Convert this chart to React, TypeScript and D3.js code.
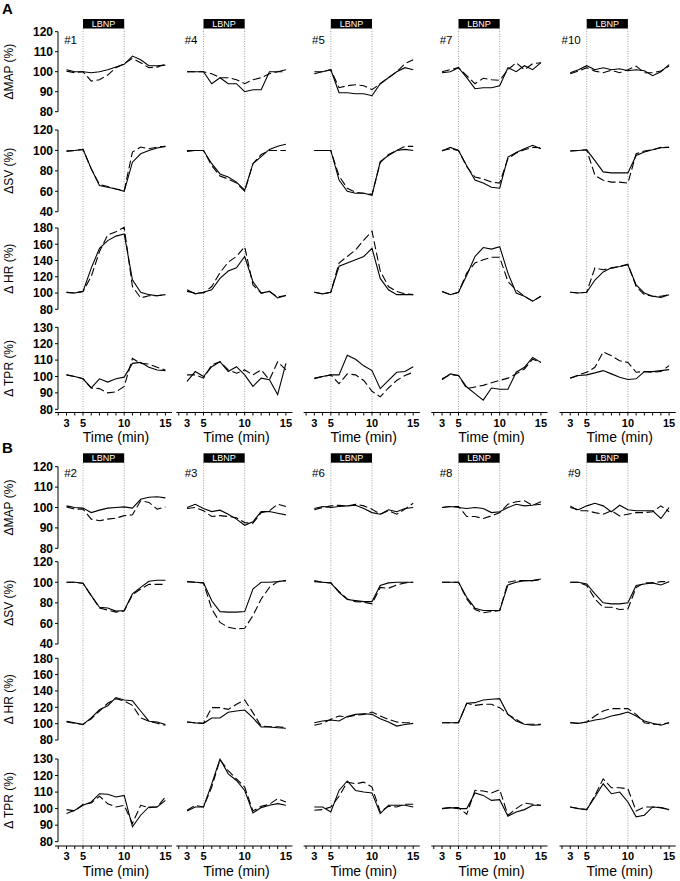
import React from "react";
import * as d3 from "d3";

const TIMES = [3, 4, 5, 6, 7, 8, 9, 10, 11, 12, 13, 14, 15];
const SUBJECTS_A = ["#1", "#4", "#5", "#7", "#10"];
const SUBJECTS_B = ["#2", "#3", "#6", "#8", "#9"];
const VAR_LABELS = ["ΔMAP (%)", "ΔSV (%)", "Δ HR (%)", "Δ TPR (%)"];
const Y_DOMAINS = [[80, 120], [40, 120], [80, 180], [80, 130]];
const Y_TICKS = [
  [80, 90, 100, 110, 120],
  [40, 60, 80, 100, 120],
  [80, 100, 120, 140, 160, 180],
  [80, 90, 100, 110, 120, 130],
];
const X_TICKS = [2, 3, 4, 5, 6, 7, 8, 9, 10, 11, 12, 13, 14, 15];
const X_TICK_LABELS = [3, 5, 10, 15];
const LBNP_START = 5;
const LBNP_END = 10;

// ---- Section A (#1, #4, #5, #7, #10) ----
const MAP_A_SOLID = [
  [101, 100, 100, 99.5, 100, 101, 102.3, 103.7, 107.8, 106, 103, 103, 103.3],
  [100, 100, 100, 94, 97, 94, 94, 90, 91, 91, 100, 100, 101],
  [100, 100, 101, 89.5, 89.5, 89, 89, 88, 94, 97, 100, 102, 101],
  [99.5, 100, 102, 97, 91.5, 92, 92, 93, 102, 100, 103, 101, 104.5],
  [99.5, 101, 103, 101, 102, 101, 101.5, 100.5, 101, 100.5, 98, 100, 103.5],
];
const MAP_A_DASHED = [
  [100.3, 99.5, 100, 95.3, 96, 98.3, 102, 104, 106.7, 104.5, 102, 102.3, 103.7],
  [100, 100, 100, 99, 97, 97, 96, 94, 96, 97, 99, 100, 100],
  [99, 100, 101, 92, 93, 93.5, 93, 91, 94, 97, 100, 104, 106],
  [100, 101, 102, 98, 94, 96.7, 96, 95.7, 101, 104.5, 101, 104, 104.5],
  [99, 100.3, 102, 100.3, 99.5, 100.7, 99.5, 101, 102.8, 99.5, 99.5, 100.3, 102.8],
];
const SV_A_SOLID = [
  [99.3, 100, 101, 82, 65.6, 64, 62.3, 60, 88.5, 96.7, 100, 102.3, 104],
  [100, 100, 100, 87, 77, 74, 69, 61, 87, 94, 101, 104, 106],
  [100, 100, 100, 71, 60, 58, 58, 56, 89, 95, 100, 101, 100],
  [99.5, 103, 100, 85, 71, 68, 64, 63, 93.5, 98, 101.6, 105, 101.6],
  [99.4, 100, 100.6, 90, 79, 78, 78, 78, 95, 98.4, 100.6, 102.6, 103],
];
const SV_A_DASHED = [
  [99.3, 100, 101, 82, 66.6, 64.6, 62.3, 60.7, 98.4, 103.3, 101.6, 103.3, 104],
  [99, 100, 100, 85, 75, 72, 68, 60, 87, 96, 100, 100, 100],
  [100, 100, 100, 75, 63, 59, 58, 57, 88, 96, 100, 104, 104],
  [100, 101.6, 100, 84, 74, 72, 69, 68, 92, 97.4, 100.6, 103, 102.6],
  [99.4, 100, 100.6, 75.6, 70.8, 69, 69, 68, 96.7, 99.4, 100.6, 103, 103],
];
const HR_A_SOLID = [
  [100.8, 100, 102, 130.6, 155, 164.5, 170, 172.6, 116.3, 100.8, 98, 96.7, 98],
  [104, 99, 101, 104, 118, 127, 131, 145, 114, 100, 102, 94, 97],
  [101, 99, 101, 133, 137, 141, 145, 155, 118, 104, 98, 98, 98],
  [102, 98, 101, 122, 145, 156, 154, 157, 124.5, 100, 96, 90, 96],
  [101, 100, 101, 116, 126, 131, 132.6, 134.7, 110, 100, 96, 94.7, 98],
];
const HR_A_DASHED = [
  [100.8, 100, 102, 120.4, 151, 171.4, 175.5, 180.8, 108, 94, 96.7, 96.7, 98],
  [102, 100, 100, 108, 125, 138, 145, 157, 110, 100, 102, 95, 97],
  [101, 99, 101, 137, 145, 153, 165, 176, 127, 108, 102, 99, 98],
  [102, 98, 101, 124.5, 137, 141, 144, 144, 114, 104, 96, 90, 96],
  [101, 100, 101, 131, 128.6, 130.6, 132.6, 135.5, 108, 98, 96, 96, 98],
];
const TPR_A_SOLID = [
  [101, 100, 98.6, 93, 98.6, 96.6, 98.6, 99.6, 108, 108.6, 105.6, 104, 103.6],
  [97, 103, 100, 106, 109, 103, 106, 101, 94, 99, 98, 89, 108],
  [99, 100, 101, 101, 113, 110.5, 106.5, 103.6, 92.6, 97.6, 102.6, 103, 106],
  [98, 101.6, 100.6, 93.6, 89.6, 85.6, 93, 92.2, 92.2, 102.6, 105.6, 111.6, 108.6],
  [99, 100.6, 101, 102.2, 103.6, 101.6, 99.6, 98.2, 98.6, 103, 103, 103.6, 104.2],
];
const TPR_A_DASHED = [
  [101, 100, 98.6, 93, 92.6, 90, 90.6, 94, 111, 108, 107.6, 105.6, 104],
  [101, 101, 99, 107, 109, 104, 102, 104, 101, 104, 98, 109, 104],
  [98.6, 100, 101, 95.6, 101.6, 101, 97.6, 91, 87.6, 93, 97.6, 100.6, 102.6],
  [98.6, 101, 100.6, 92.6, 93.6, 94.6, 96.2, 97.6, 99, 101.6, 104.6, 110.6, 108.6],
  [99, 101, 102.6, 105.6, 115, 112.6, 109.6, 108.6, 102.6, 103, 102.6, 103, 106.6],
];

// ---- Section B (#2, #3, #6, #8, #9) ----
const MAP_B_SOLID = [
  [100.8, 100, 99.7, 97.5, 98.7, 99.7, 100, 100.3, 99.7, 104, 105, 105.3, 104.7],
  [100, 101.6, 99.5, 98, 98.7, 96.7, 94.3, 91.3, 93, 98, 98, 97.2, 96.4],
  [99.5, 100.5, 100, 100.5, 100.8, 101.1, 99.5, 97.5, 96.7, 98.9, 97.9, 99.5, 100],
  [100, 100.5, 100, 99.5, 100, 99.5, 97.5, 97.9, 100, 101.6, 100.8, 101.1, 102.8],
  [100, 98.9, 100.8, 102.1, 100.8, 97.9, 101.1, 98.9, 98.4, 98.4, 98.4, 94.6, 100],
];
const MAP_B_DASHED = [
  [100.3, 99.2, 99.2, 94.3, 93.5, 94.3, 94.8, 96, 96.4, 103.3, 102.5, 99.2, 100.3],
  [99.5, 100, 98.4, 95.6, 96, 95.6, 95, 92.6, 92.3, 97.5, 98.4, 101.6, 100.5],
  [98.9, 100, 100.8, 101.1, 100.8, 101.6, 100.8, 99.2, 96.7, 98.4, 96.7, 99.2, 102.1],
  [100, 100.5, 100.5, 95.6, 95.6, 94.6, 95.9, 97.5, 101.6, 102.8, 103.3, 101.1, 101.6],
  [100.8, 98.4, 98.4, 97.5, 96.7, 98.4, 95.9, 96.7, 97.5, 97.5, 97.9, 100.8, 97.9],
];
const SV_B_SOLID = [
  [100, 100, 99, 87, 75.7, 75, 72, 72.5, 88.7, 95, 101, 102, 102],
  [100.6, 100, 99.4, 82, 71.5, 71, 71, 71.5, 93.5, 100, 100, 100.6, 101.6],
  [100.6, 100, 99.4, 90.3, 83.2, 82.2, 81.2, 81.2, 96.8, 99.4, 100, 100, 100],
  [100, 100, 100, 85.4, 74.8, 72.5, 72.5, 72.5, 97.4, 100, 101.6, 101.6, 103.2],
  [100, 100, 98.4, 88.7, 80, 79, 79, 80, 96.8, 98.4, 99.4, 97.4, 100.6],
];
const SV_B_DASHED = [
  [100, 100, 99, 87, 75, 73, 71, 72, 88, 93.5, 98, 98, 98],
  [100.6, 100, 99.4, 74, 61, 56.3, 54.7, 55.3, 67.6, 83.8, 95, 100.6, 101.6],
  [101.6, 100, 99.4, 91, 83.8, 81.2, 80.6, 79, 95, 94.2, 97.4, 99.4, 100],
  [100, 100, 100, 83.8, 73.5, 70.3, 71.6, 72.5, 100, 101.6, 101.6, 101.6, 102.6],
  [100, 100, 96.8, 83.8, 75.7, 75.7, 73.5, 74.1, 95, 99.4, 99.4, 100.6, 100.6],
];
const HR_B_SOLID = [
  [103, 101, 99, 107, 117, 122, 132, 129, 128, 115.5, 103, 102, 99],
  [102, 101, 100.4, 107, 107, 114, 115.5, 116.7, 107, 96, 96, 95, 94.3],
  [101.2, 103.3, 104.5, 103.3, 108.6, 111.4, 112.2, 111.4, 106, 102, 97, 99, 100.4],
  [101.2, 101.2, 101.2, 124.9, 125.7, 129, 129.8, 130.6, 111.4, 103.3, 99.2, 98, 98.8],
  [101.2, 100.4, 102, 104.5, 106, 109.4, 111.4, 114.3, 109.4, 103.3, 100.4, 98, 101.2],
];
const HR_B_DASHED = [
  [102, 100.4, 99, 106, 115.5, 125, 130.6, 127.7, 122.4, 107, 103, 100.4, 98],
  [102, 101, 100.4, 119.6, 119.6, 117.5, 123.7, 129, 113.5, 97, 96.3, 96.3, 95],
  [98, 100.4, 105.3, 109.4, 108.2, 110.2, 111.4, 114.3, 109.4, 105.3, 102, 101.2, 101.2],
  [101.2, 101.2, 101.2, 124.9, 122.4, 123.7, 123.7, 119.6, 111.4, 105.3, 99.2, 99.2, 99.2],
  [101.2, 100.4, 102, 109.4, 115.5, 118.4, 118.4, 118.4, 111.4, 101.2, 99.2, 99.2, 101.2],
];
const TPR_B_SOLID = [
  [97, 99, 102, 104, 109, 108.7, 107, 108, 89, 96, 101, 101, 105],
  [98.6, 101, 101, 115, 130, 121, 117, 111, 97.4, 100.6, 102, 103, 102],
  [101, 101, 98, 111, 116.7, 111, 110, 109.5, 97, 102, 102, 102, 101],
  [100, 100.6, 100, 100, 109.5, 108, 105, 105.4, 95.4, 98, 99.4, 102, 102],
  [101, 100, 99.4, 107, 115, 109, 110, 104, 95, 96, 101, 100.6, 99.4],
];
const TPR_B_DASHED = [
  [99.4, 98.6, 102.6, 103.4, 107.5, 103, 101, 102, 91, 102, 100.6, 101, 107],
  [99, 102, 101, 113, 129.6, 123, 118, 113, 98.6, 101.4, 102.6, 106, 104],
  [99, 99.4, 101, 107.5, 116, 115, 116, 113, 98, 101.4, 101, 102.6, 102.6],
  [100, 100.6, 100.6, 96.6, 111, 110.7, 109.5, 111.5, 96, 100, 103.4, 102.6, 102],
  [101, 100, 99.4, 108, 118, 112.6, 112.6, 112, 98.6, 101, 101, 100.6, 99.4],
];

const SOLID_A = [MAP_A_SOLID, SV_A_SOLID, HR_A_SOLID, TPR_A_SOLID];
const DASHED_A = [MAP_A_DASHED, SV_A_DASHED, HR_A_DASHED, TPR_A_DASHED];
const SOLID_B = [MAP_B_SOLID, SV_B_SOLID, HR_B_SOLID, TPR_B_SOLID];
const DASHED_B = [MAP_B_DASHED, SV_B_DASHED, HR_B_DASHED, TPR_B_DASHED];

// ---- layout ----
const W = 680;
const H = 881;
const FONT = "'Liberation Sans', Arial, Helvetica, sans-serif";
const COL_T5 = [83, 203.5, 330.8, 458.5, 586.7];
const MIN5_PX = 41.2;
const AXIS_X_LEFT = 58;

type Section = {
  letter: string;
  subjects: string[];
  solid: number[][][];
  dashed: number[][][];
  rowTop: number[];
  rowBottom: number[];
  letterY: number;
  boxTop: number;
  boxBottom: number;
  subjY: number;
  axisY: number;
  tickLabelY: number;
  timeY: number;
};

const SECTIONS: Section[] = [
  {
    letter: "A",
    subjects: SUBJECTS_A,
    solid: SOLID_A,
    dashed: DASHED_A,
    rowTop: [31.7, 130, 228, 327.3],
    rowBottom: [111.7, 211.7, 309.3, 409.3],
    letterY: 14,
    boxTop: 19,
    boxBottom: 28.5,
    subjY: 44,
    axisY: 412.5,
    tickLabelY: 427,
    timeY: 442,
  },
  {
    letter: "B",
    subjects: SUBJECTS_B,
    solid: SOLID_B,
    dashed: DASHED_B,
    rowTop: [466.7, 561.7, 658.3, 759],
    rowBottom: [548.3, 644, 740, 841.7],
    letterY: 453,
    boxTop: 453.3,
    boxBottom: 462.7,
    subjY: 477,
    axisY: 846,
    tickLabelY: 860,
    timeY: 876,
  },
];

function xScaleFor(c: number) {
  return d3
    .scaleLinear()
    .domain([LBNP_START, LBNP_END])
    .range([COL_T5[c], COL_T5[c] + MIN5_PX]);
}

function SectionView({ s }: { s: Section }) {
  const yScales = Y_DOMAINS.map((dom, r) =>
    d3.scaleLinear().domain(dom).range([s.rowBottom[r], s.rowTop[r]])
  );
  return (
    <g>
      <text x={2} y={s.letterY} fontSize={15} fontWeight="bold" fontFamily={FONT}>
        {s.letter}
      </text>
      {yScales.map((y, r) => {
        const [lo, hi] = Y_DOMAINS[r];
        const mid = (s.rowTop[r] + s.rowBottom[r]) / 2;
        return (
          <g key={"ya" + r}>
            <line x1={AXIS_X_LEFT} x2={AXIS_X_LEFT} y1={y(hi)} y2={y(lo)} stroke="#000" strokeWidth={1} />
            {Y_TICKS[r].map((t) => (
              <g key={t}>
                <line x1={AXIS_X_LEFT - 3} x2={AXIS_X_LEFT} y1={y(t)} y2={y(t)} stroke="#000" strokeWidth={1} />
                <text
                  x={AXIS_X_LEFT - 5}
                  y={y(t)}
                  dy="0.36em"
                  textAnchor="end"
                  fontSize={12}
                  fontWeight="bold"
                  fontFamily={FONT}
                >
                  {t}
                </text>
              </g>
            ))}
            <text
              transform={`translate(12.5,${mid}) rotate(-90)`}
              textAnchor="middle"
              fontSize={12}
              fontFamily={FONT}
            >
              {VAR_LABELS[r]}
            </text>
          </g>
        );
      })}
      {s.subjects.map((name, c) => {
        const x = xScaleFor(c);
        const xStart = c === 0 ? AXIS_X_LEFT - 3 : x(1.7);
        const xEnd = x(15.8);
        return (
          <g key={name}>
            <rect
              x={x(LBNP_START)}
              y={s.boxTop}
              width={x(LBNP_END) - x(LBNP_START)}
              height={s.boxBottom - s.boxTop}
              fill="#000"
            />
            <text
              x={(x(LBNP_START) + x(LBNP_END)) / 2}
              y={(s.boxTop + s.boxBottom) / 2}
              dy="0.36em"
              textAnchor="middle"
              fontSize={9}
              fill="#fff"
              fontFamily={FONT}
            >
              LBNP
            </text>
            {[LBNP_START, LBNP_END].map((t) => (
              <line
                key={t}
                x1={x(t)}
                x2={x(t)}
                y1={s.boxBottom}
                y2={s.axisY}
                stroke="#8a8a8a"
                strokeWidth={0.8}
                strokeDasharray="1,1.5"
              />
            ))}
            <text x={x(LBNP_START) - 6} y={s.subjY} textAnchor="end" fontSize={11.5} fontFamily={FONT}>
              {name}
            </text>
            {yScales.map((y, r) => {
              const line = d3
                .line<number>()
                .x((_, i) => x(TIMES[i]))
                .y((d) => y(d));
              return (
                <g key={"d" + r}>
                  <path d={line(s.solid[r][c]) || ""} fill="none" stroke="#000" strokeWidth={1.1} />
                  <path
                    d={line(s.dashed[r][c]) || ""}
                    fill="none"
                    stroke="#000"
                    strokeWidth={1.1}
                    strokeDasharray="8,3.5"
                  />
                </g>
              );
            })}
            <line x1={xStart} x2={xEnd} y1={s.axisY} y2={s.axisY} stroke="#000" strokeWidth={1} />
            {X_TICKS.map((t) => (
              <line key={t} x1={x(t)} x2={x(t)} y1={s.axisY} y2={s.axisY + 3} stroke="#000" strokeWidth={1} />
            ))}
            {X_TICK_LABELS.map((t) => (
              <text
                key={t}
                x={x(t)}
                y={s.tickLabelY}
                textAnchor="middle"
                fontSize={11}
                fontWeight="bold"
                fontFamily={FONT}
              >
                {t}
              </text>
            ))}
            <text x={x(9)} y={s.timeY} textAnchor="middle" fontSize={14} fontFamily={FONT}>
              Time (min)
            </text>
          </g>
        );
      })}
    </g>
  );
}

export default function App() {
  return (
    <svg
      width={W}
      height={H}
      viewBox={`0 0 ${W} ${H}`}
      style={{ position: "absolute", left: 0, top: 0, background: "#fff" }}
    >
      <rect x={0} y={0} width={W} height={H} fill="#fff" />
      {SECTIONS.map((s) => (
        <SectionView key={s.letter} s={s} />
      ))}
    </svg>
  );
}
